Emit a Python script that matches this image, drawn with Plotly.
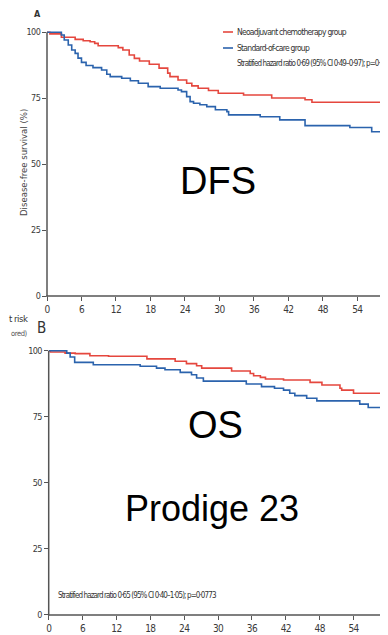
import plotly.graph_objects as go

# page geometry: the browser body has an 8px margin, so the figure is placed at (8, 8)
PAGE_W, PAGE_H = 388, 635
OFF = 8
FW, FH = PAGE_W - OFF, PAGE_H - OFF

# ---------------- data ----------------
# Panel A: disease-free survival (%), months
dfs_neo_t = [0, 0.5, 2.5, 4.9, 6.3, 7.5, 8.3, 8.9, 12.4, 13.2, 14.3, 15.2, 16.1, 17.8, 19.5,
             21.0, 21.4, 22.8, 24.3, 25.2, 26.3, 28.1, 29.8, 34.2, 39.1, 44.9, 46.1, 59.4]
dfs_neo_v = [100, 99.4, 98.1, 97.3, 96.8, 96.4, 95.8, 94.9, 94.2, 93.3, 91.4, 90.1, 89.1, 87.9, 86.4,
             84.5, 83.2, 81.9, 80.7, 79.7, 78.8, 77.9, 76.9, 76.2, 75.1, 74.4, 73.5, 73.5]

dfs_soc_t = [0, 2.5, 3.0, 3.7, 4.3, 4.9, 5.4, 6.0, 6.8, 8.0, 9.5, 10.4, 11.0, 13.0, 14.5, 15.9,
             17.6, 19.7, 22.8, 23.4, 24.3, 24.9, 25.5, 26.6, 27.8, 29.3, 31.3, 31.6, 37.1, 40.5,
             44.9, 52.7, 56.5, 59.4]
dfs_soc_v = [100, 99.0, 97.1, 95.2, 93.3, 92.0, 90.2, 88.6, 87.4, 86.6, 85.7, 84.1, 83.2, 82.6, 81.6, 80.7,
             79.4, 78.8, 78.1, 77.5, 75.6, 73.7, 73.1, 72.5, 71.8, 70.6, 69.9, 68.7, 68.0, 66.8,
             64.6, 63.9, 62.3, 62.3]

# Panel B: overall survival (%), months
os_neo_t = [0, 0.3, 2.9, 4.7, 7.3, 10.6, 17.4, 22.4, 24.4, 26.2, 27.1, 32.4, 35.7, 36.3, 37.5,
            38.4, 41.6, 46.3, 48.4, 51.6, 51.9, 54.0, 60.1]
os_neo_v = [100, 99.5, 99.1, 98.9, 98.1, 97.9, 96.9, 96.0, 95.1, 94.3, 93.4, 92.3, 91.4, 90.5, 89.9,
            89.3, 88.9, 88.0, 87.0, 85.8, 85.1, 83.9, 83.9]

os_soc_t = [0, 3.2, 3.8, 4.6, 5.5, 7.9, 16.2, 19.1, 20.6, 23.3, 25.3, 26.2, 27.4, 35.0, 37.7,
            40.0, 41.6, 42.7, 43.6, 45.7, 47.5, 55.1, 56.6, 60.1]
os_soc_v = [100, 99.1, 97.6, 95.6, 95.6, 94.7, 94.1, 93.4, 92.8, 91.8, 90.9, 89.7, 88.5, 87.4, 86.4,
            85.8, 85.1, 83.9, 83.0, 82.0, 81.0, 79.8, 78.5, 78.5]

y_ticks = [0, 25, 50, 75, 100]
x_ticks = [0, 6, 12, 18, 24, 30, 36, 42, 48, 54, 60]

legend_names = ["Neoadjuvant chemotherapy group", "Standard-of-care group"]
hr_a = "Stratified hazard ratio 0·69 (95% CI 0·49–0·97); p=0·034"
hr_b = "Stratified hazard ratio 0·65 (95% CI 0·40–1·05); p=0·0773"

RED = "#E5473E"
BLUE = "#2B63AD"
AX = "#555555"
TXT = "#3a3a3a"
COND = "DejaVu Sans Condensed, Liberation Sans Narrow, DejaVu Sans, sans-serif"
ARIAL = "Liberation Sans, Arial, sans-serif"


def cond(s, ls=-0.5):
    return f'<span style="font-stretch:condensed;letter-spacing:{ls}px">{s}</span>'


def px(x):
    return (x - OFF) / FW


def py(y):
    return 1 - (y - OFF) / FH


fig = go.Figure()

for t, v, c, ax in [(dfs_neo_t, dfs_neo_v, RED, 1), (dfs_soc_t, dfs_soc_v, BLUE, 1),
                    (os_neo_t, os_neo_v, RED, 2), (os_soc_t, os_soc_v, BLUE, 2)]:
    fig.add_trace(go.Scatter(x=t, y=v, mode="lines", line=dict(color=c, width=1.6, shape="hv"),
                             xaxis="x" if ax == 1 else "x2", yaxis="y" if ax == 1 else "y2",
                             showlegend=False, hoverinfo="skip"))

# geometry (page pixels)
A_x0, A_xk = 47.0, 5.747   # x pixel of month 0, px per month
A_y0, A_k = 296.0, 2.637   # y pixel of 0 %, px per %
B_x0, B_xk = 48.7, 5.645
B_y0, B_k = 615.0, 2.643
YTOP = 101.5

xt_text = [cond(str(v), -0.6) for v in x_ticks]
yt_text = [cond(str(v), -0.6) for v in y_ticks]

common_x = dict(showgrid=False, zeroline=False, showline=False, ticks="outside", ticklen=4,
                tickwidth=1.2, tickcolor=AX, tickvals=x_ticks, ticktext=xt_text, automargin=False,
                ticklabeloverflow="allow",
                tickfont=dict(family=COND, size=10, color=TXT), fixedrange=True)
common_y = dict(showgrid=False, zeroline=False, showline=False, ticks="outside", ticklen=4,
                tickwidth=1.2, tickcolor=AX, tickvals=y_ticks, ticktext=yt_text, automargin=False,
                ticklabeloverflow="allow",
                tickfont=dict(family=COND, size=9, color=TXT), fixedrange=True)

fig.update_layout(
    width=FW, height=FH, margin=dict(l=0, r=0, t=0, b=0),
    paper_bgcolor="white", plot_bgcolor="white", template="none",
    xaxis=dict(domain=[px(A_x0), 1], range=[0, (PAGE_W - A_x0) / A_xk], anchor="y", **common_x),
    yaxis=dict(domain=[py(A_y0), py(A_y0 - YTOP * A_k)], range=[0, YTOP], anchor="x", **common_y),
    xaxis2=dict(domain=[px(B_x0), 1], range=[0, (PAGE_W - B_x0) / B_xk], anchor="y2", **common_x),
    yaxis2=dict(domain=[py(B_y0), py(B_y0 - YTOP * B_k)], range=[0, YTOP], anchor="x2", **common_y),
)

shapes = []


def seg(x0, y0, x1, y1, color=AX, w=1.5):
    shapes.append(dict(type="line", xref="paper", yref="paper", x0=px(x0), y0=py(y0),
                       x1=px(x1), y1=py(y1), line=dict(color=color, width=w)))


# axis lines
seg(A_x0, A_y0 - 100 * A_k, A_x0, A_y0 + 0.7)
seg(A_x0 - 0.7, A_y0, PAGE_W, A_y0)
seg(B_x0, B_y0 - 100 * B_k, B_x0, B_y0 + 0.7)
seg(B_x0 - 0.7, B_y0, PAGE_W, B_y0)
# legend keys
seg(223, 32, 233, 32, RED, 1.6)
seg(223, 48, 233, 48, BLUE, 1.6)
fig.update_layout(shapes=shapes)

ann = []


def text(x, y, s, size, family=COND, color=TXT, xanchor="left", angle=0):
    ann.append(dict(x=px(x), y=py(y), xref="paper", yref="paper", text=s,
                    showarrow=False, xanchor=xanchor, yanchor="middle", textangle=angle,
                    borderpad=0, font=dict(family=family, size=size, color=color)))


text(37, 14, "<b>A</b>", 9, xanchor="center", color="#333")
text(41.5, 328, cond("B", 0), 15, xanchor="center", color="#333")
text(29, 318, cond("t risk", -0.5), 9.5, xanchor="right", color="#333")
text(29, 333, cond("ored)", -0.4), 7.5, xanchor="right", color="#555")
text(236, 32, cond(legend_names[0], -0.75), 8.5, color="#333")
text(236, 48, cond(legend_names[1], -0.75), 8.5, color="#333")
text(236, 63, cond(hr_a, -0.9), 8, color="#333")
text(57, 595, cond(hr_b, -0.9), 8, color="#333")
text(23, 163, cond("Disease-free survival (%)", 0), 9.5, angle=-90, xanchor="center", color="#444")
text(218, 181, "DFS", 38, family=ARIAL, xanchor="center", color="black")
text(215, 425, "OS", 38, family=ARIAL, xanchor="center", color="black")
text(212, 508, "Prodige 23", 36, family=ARIAL, xanchor="center", color="black")
fig.update_layout(annotations=ann)

fig.write_html("out.html")
